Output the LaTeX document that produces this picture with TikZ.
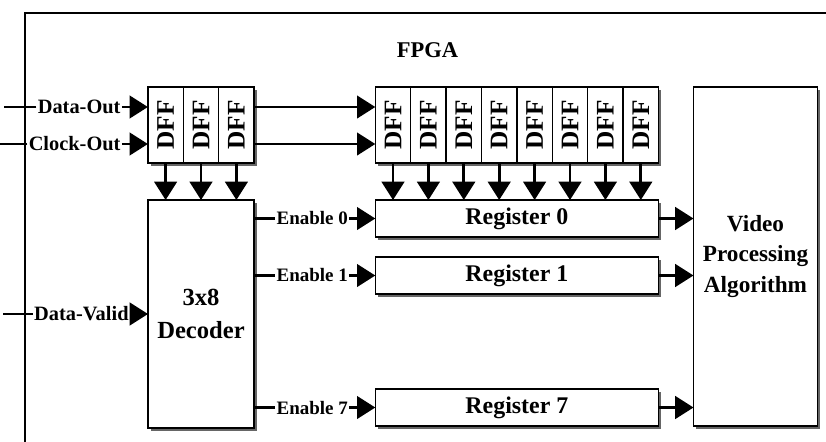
\documentclass[tikz,border=0pt]{standalone}
\usepackage{fontspec}
\setmainfont{Liberation Serif}
\usepackage{graphicx}
\usepackage{tikz}
\usetikzlibrary{shadows, positioning, arrows.meta}

\newcommand{\dfftext}{\rotatebox{90}{DFF}}

\begin{document}
\begin{tikzpicture}[
        every node/.style={font=\bfseries, align=center, inner sep=1pt, outer sep=0pt},
        dff/.style={rectangle, draw, line width=1pt, fill=white, minimum width=0.885cm, minimum height=1.9cm, drop shadow={shadow xshift=2pt, shadow yshift=-2pt, fill=black!60, opacity=1}, font=\fontsize{18}{20}\selectfont\bfseries},
        block/.style={rectangle, draw, line width=1pt, fill=white, drop shadow={shadow xshift=2pt, shadow yshift=-2pt, fill=black!60, opacity=1}, font=\fontsize{16.5}{21.5}\selectfont\bfseries},
        reg/.style={block, minimum width=7.08cm, minimum height=0.925cm, font=\fontsize{17}{20}\selectfont\bfseries},
        sig/.style={font=\fontsize{14.5}{17}\selectfont\bfseries},
        enable/.style={font=\fontsize{13.5}{16}\selectfont\bfseries},
        arrow/.style={-{Triangle[length=13pt, width=16pt]}, line width=1.9pt},
        line/.style={-, line width=1.9pt}
    ]
    \useasboundingbox (0,0) rectangle (20.65,-11.025);
%
    % FPGA frame
    \draw[line width=1.1pt] (0.625,-11.2) |- (20.8,-0.325);
    \node[font=\fontsize{16}{19}\selectfont\bfseries] (fpga) at (10.69,-1.26) {FPGA};
%
    % First DFF chain
    \node[dff] (d1) at (4.14,-3.125) {\dfftext};
    \node[dff, right=0pt of d1] (d2) {\dfftext};
    \node[dff, right=0pt of d2] (d3) {\dfftext};
%
    % Second DFF chain
    \node[dff, right=3.03cm of d3] (r1) {\dfftext};
    \node[dff, right=0pt of r1] (r2) {\dfftext};
    \node[dff, right=0pt of r2] (r3) {\dfftext};
    \node[dff, right=0pt of r3] (r4) {\dfftext};
    \node[dff, right=0pt of r4] (r5) {\dfftext};
    \node[dff, right=0pt of r5] (r6) {\dfftext};
    \node[dff, right=0pt of r6] (r7) {\dfftext};
    \node[dff, right=0pt of r7] (r8) {\dfftext};
%
    % Decoder and registers
    \node[block, minimum width=2.65cm, minimum height=5.7cm, font=\fontsize{17.5}{23}\selectfont\bfseries, below=0.925cm of d2] (dec) {3x8\\Decoder};
    \node[reg, below right=0.925cm and 0cm of r1.south west] (reg0) {Register 0};
    \node[reg, below=0.5cm of reg0] (reg1) {Register 1};
    \node[reg, below=2.375cm of reg1] (reg7) {Register 7};
%
    % Video processing
    \node[block, minimum width=3.1cm, minimum height=8.475cm, below right=0cm and 0.875cm of r8.north east] (vpa) {Video\\Processing\\Algorithm};
%
    % Inputs
    \node[sig, left=0.65cm of d1.west, yshift=0.45cm] (dout) {Data-Out};
    \node[sig, left=0.65cm of d1.west, yshift=-0.475cm] (cout) {Clock-Out};
    \node[sig, left=0.45cm of dec] (dvalid) {Data-Valid};
    \draw[line] (dout.west) -- ++(-0.8,0);
    \draw[line] (cout.west) -- ++(-0.75,0);
    \draw[line] (dvalid.west) -- ++(-0.75,0);
    \draw[arrow] (dout) -- (dout -| d1.west);
    \draw[arrow] (cout) -- (cout -| d1.west);
    \draw[arrow] (dvalid) -- (dec);
%
    % Chain to chain
    \draw[arrow] (d3.east |- dout) -- (r1.west |- dout);
    \draw[arrow] (d3.east |- cout) -- (r1.west |- cout);
%
    % DFF outputs
    \draw[arrow] (d1) -- (d1 |- dec.north);
    \draw[arrow] (d2) -- (d2 |- dec.north);
    \draw[arrow] (d3) -- (d3 |- dec.north);
    \draw[arrow] (r1) -- (r1 |- reg0.north);
    \draw[arrow] (r2) -- (r2 |- reg0.north);
    \draw[arrow] (r3) -- (r3 |- reg0.north);
    \draw[arrow] (r4) -- (r4 |- reg0.north);
    \draw[arrow] (r5) -- (r5 |- reg0.north);
    \draw[arrow] (r6) -- (r6 |- reg0.north);
    \draw[arrow] (r7) -- (r7 |- reg0.north);
    \draw[arrow] (r8) -- (r8 |- reg0.north);
%
    % Enable lines
    \node[enable, left=0.65cm of reg0] (en0) {Enable 0};
    \node[enable, left=0.65cm of reg1] (en1) {Enable 1};
    \node[enable, left=0.65cm of reg7] (en7) {Enable 7};
    \draw[line] (dec.east |- en0) -- (en0);
    \draw[line] (dec.east |- en1) -- (en1);
    \draw[line] (dec.east |- en7) -- (en7);
    \draw[arrow] (en0) -- (reg0);
    \draw[arrow] (en1) -- (reg1);
    \draw[arrow] (en7) -- (reg7);
%
    % Registers to algorithm
    \draw[arrow] (reg0) -- (reg0 -| vpa.west);
    \draw[arrow] (reg1) -- (reg1 -| vpa.west);
    \draw[arrow] (reg7) -- (reg7 -| vpa.west);
%
\end{tikzpicture}
\end{document}
